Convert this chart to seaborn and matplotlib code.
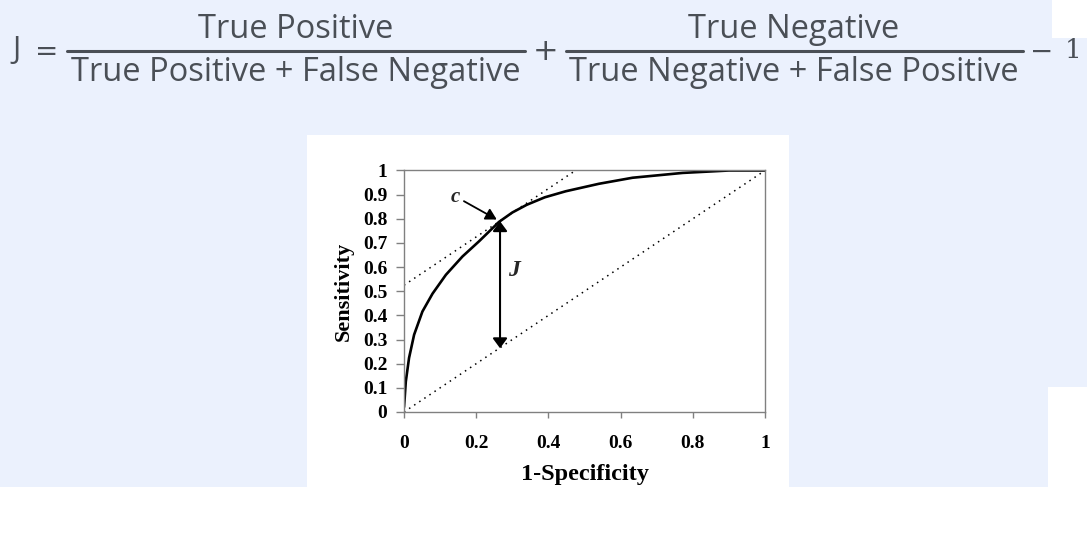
import matplotlib
matplotlib.use("Agg")
import matplotlib.pyplot as plt
from matplotlib.patches import Rectangle
from matplotlib.lines import Line2D
import seaborn as sns
import pandas as pd

# ---- data ----
fpr = [0, 0.002, 0.005, 0.014, 0.028, 0.051, 0.079, 0.116, 0.162, 0.208, 0.263,
       0.3, 0.34, 0.39, 0.448, 0.54, 0.633, 0.772, 0.9, 1.0]
tpr = [0.02, 0.06, 0.126, 0.224, 0.32, 0.416, 0.49, 0.568, 0.644, 0.707, 0.787,
       0.826, 0.858, 0.889, 0.914, 0.945, 0.97, 0.99, 1.0, 1.0]
chance_x = [0, 1]
chance_y = [0, 1]
tangent_x = [0, 0.475]
tangent_y = [0.525, 1.0]
cut_x = 0.266
cut_sens = 0.79
cut_chance = 0.264
yticks = [0, 0.1, 0.2, 0.3, 0.4, 0.5, 0.6, 0.7, 0.8, 0.9, 1]
ytick_labels = ["0", "0.1", "0.2", "0.3", "0.4", "0.5", "0.6", "0.7", "0.8", "0.9", "1"]
xticks = [0, 0.2, 0.4, 0.6, 0.8, 1]
xtick_labels = ["0", "0.2", "0.4", "0.6", "0.8", "1"]

sns.set_style("white")
plt.rcParams["font.family"] = ["Liberation Serif", "DejaVu Serif"]

W, H = 1087, 540
fig = plt.figure(figsize=(W / 100, H / 100), dpi=100)
fig.patch.set_facecolor("white")

BLUE = "#ebf1fd"


def rect_px(x0, y0, x1, y1):
    fig.add_artist(Rectangle((x0 / W, 1 - y1 / H), (x1 - x0) / W, (y1 - y0) / H,
                             transform=fig.transFigure, facecolor=BLUE,
                             edgecolor="none", zorder=-5))


rect_px(0, 0, 1052, 135)
rect_px(1052, 38, 1087, 135)
rect_px(0, 135, 307, 487)
rect_px(789, 135, 1087, 387)
rect_px(789, 387, 1048, 487)

# ---- formula ----
TXT = "#4a4f56"
FS = 23.5


def ftext(x, y, s, **kw):
    kw.setdefault("family", ["Open Sans", "DejaVu Sans"])
    kw.setdefault("fontsize", FS)
    kw.setdefault("color", TXT)
    fig.text(x / W, 1 - y / H, s, **kw)


def fbar(x0, x1, y):
    fig.add_artist(Line2D([x0 / W, x1 / W], [1 - y / H, 1 - y / H],
                          transform=fig.transFigure, color=TXT, lw=2.2))


ftext(12, 50, "J", ha="left", va="center", fontsize=22)
ftext(47, 52, "=", ha="center", va="center", family=["DejaVu Sans"], fontsize=20)
fbar(67, 525, 51)
ftext(296, 38, "True Positive", ha="center", va="baseline")
ftext(296, 81, "True Positive + False Negative", ha="center", va="baseline")
ftext(546, 51, "+", ha="center", va="center", family=["DejaVu Sans"], fontsize=22)
fbar(566, 1023, 51)
ftext(794, 38, "True Negative", ha="center", va="baseline")
ftext(794, 81, "True Negative + False Positive", ha="center", va="baseline")
ftext(1042, 52, "\u2212", ha="center", va="center", family=["DejaVu Sans"], fontsize=20)
ftext(1073, 51, "1", ha="center", va="center", family=["DejaVu Serif"], fontsize=19)

# ---- chart box ----
fig.add_artist(Rectangle((307 / W, 1 - 487 / H), (789 - 307) / W, (487 - 135) / H,
                         transform=fig.transFigure, facecolor="white",
                         edgecolor="none", zorder=-4))

ax = fig.add_axes([404 / W, 1 - 412 / H, 361 / W, 241.5 / H])
ax.set_facecolor("white")

df = pd.DataFrame({"fpr": fpr, "tpr": tpr})
sns.lineplot(data=df, x="fpr", y="tpr", ax=ax, color="black", lw=1.9,
             estimator=None, sort=False)
sns.lineplot(x=chance_x, y=chance_y, ax=ax, color="black", lw=1.1,
             linestyle=(0, (1, 3)), estimator=None)
sns.lineplot(x=tangent_x, y=tangent_y, ax=ax, color="black", lw=1.1,
             linestyle=(0, (1, 3)), estimator=None)

ax.annotate("", xy=(cut_x, cut_sens), xytext=(cut_x, cut_chance),
            arrowprops=dict(arrowstyle="<|-|>,head_width=0.31,head_length=0.42",
                            color="black", lw=1.5, mutation_scale=14,
                            shrinkA=0, shrinkB=0))
ax.annotate("", xy=(0.257, 0.797), xytext=(0.166, 0.873),
            arrowprops=dict(arrowstyle="-|>,head_width=0.28,head_length=0.5",
                            color="black", lw=1.3, mutation_scale=13,
                            shrinkA=0, shrinkB=0))
ax.text(0.141, 0.89, "c", fontsize=15, fontweight="bold", style="italic",
        ha="center", va="center")
ax.text(0.305, 0.585, "J", fontsize=17, fontweight="bold", style="italic",
        ha="center", va="center")

ax.set_xlim(0, 1)
ax.set_ylim(0, 1)
ax.set_yticks(yticks)
ax.set_yticklabels(ytick_labels)
ax.set_xticks(xticks)
ax.set_xticklabels(xtick_labels)
for lab in ax.get_xticklabels() + ax.get_yticklabels():
    lab.set_fontweight("bold")
    lab.set_fontsize(14)
    lab.set_color("black")
ax.tick_params(axis="y", direction="out", length=6, width=1, color="#808080", pad=6, left=True)
ax.tick_params(axis="x", direction="out", length=4.5, width=1, color="#808080", pad=12, bottom=True)

for s in ["left", "bottom", "top", "right"]:
    ax.spines[s].set_visible(True)
    ax.spines[s].set_color("#808080")
    ax.spines[s].set_linewidth(1.0)

ax.set_xlabel("1-Specificity", fontsize=17.5, fontweight="bold", color="black")
ax.set_ylabel("Sensitivity", fontsize=16, fontweight="bold", color="black")
ax.xaxis.set_label_coords(0.5, -0.215)
ax.yaxis.set_label_coords(-0.14, 0.5)

fig.savefig("out.png", dpi=100, facecolor=fig.get_facecolor())
